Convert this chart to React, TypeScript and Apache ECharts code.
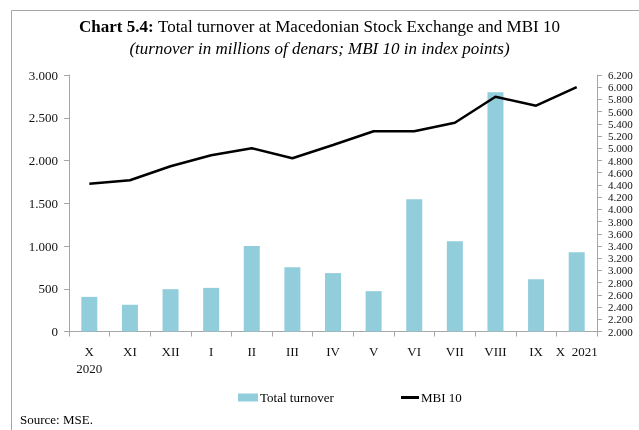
import React, { useEffect, useRef } from "react";
import * as echarts from "echarts";

const categories = ["X\n2020", "XI", "XII", "I", "II", "III", "IV", "V", "VI", "VII", "VIII", "IX", "X  2021"];
const turnover = [405, 312, 495, 510, 1000, 752, 683, 472, 1548, 1057, 2797, 612, 928];
const mbi10 = [4420, 4476, 4705, 4885, 5000, 4836, 5054, 5278, 5278, 5419, 5845, 5697, 6000];

const FONT = "Liberation Serif";
const fmt = (v: number) => String(v).replace(/\B(?=(\d{3})+(?!\d))/g, ".");

export default function App() {
  const ref = useRef<HTMLDivElement>(null);
  useEffect(() => {
    if (!ref.current) return;
    const chart = echarts.init(ref.current, undefined, { renderer: "svg" });
    chart.setOption({
      animation: false,
      textStyle: { fontFamily: FONT },
      title: {
        left: "center",
        top: 13,
        text: "{b|Chart 5.4:} {n|Total turnover at Macedonian Stock Exchange and MBI 10}",
        subtext: "(turnover in millions of denars; MBI 10 in index points)",
        itemGap: 5,
        textStyle: {
          fontWeight: "normal",
          fontFamily: FONT,
          fontSize: 17,
          color: "#000",
          rich: {
            b: { fontFamily: FONT, fontWeight: "bold", fontSize: 17, color: "#000" },
            n: { fontFamily: FONT, fontWeight: "normal", fontSize: 17, color: "#000" },
          },
        },
        subtextStyle: { fontFamily: FONT, fontStyle: "italic", fontSize: 17, color: "#000" },
      },
      grid: { left: 69, right: 42, top: 75, bottom: 98.5 },
      legend: [
        {
          data: ["Total turnover"],
          left: 233,
          top: 386,
          icon: "rect",
          itemWidth: 20,
          itemHeight: 8,
          textStyle: { fontFamily: FONT, fontSize: 13, color: "#000", padding: [0, 0, 0, -3] },
        },
        {
          data: ["MBI 10"],
          left: 396,
          top: 386,
          icon: "rect",
          itemWidth: 18,
          itemHeight: 3,
          textStyle: { fontFamily: FONT, fontSize: 13, color: "#000", padding: [0, 0, 0, -3] },
        },
      ],
      xAxis: {
        type: "category",
        data: categories,
        boundaryGap: true,
        axisLine: { lineStyle: { color: "#a6a6a6", width: 1 } },
        axisTick: { show: true, length: 5, inside: false, lineStyle: { color: "#a6a6a6" } },
        axisLabel: { interval: 0, margin: 11, fontSize: 13, lineHeight: 17, color: "#111", fontFamily: FONT },
      },
      yAxis: [
        {
          type: "value",
          min: 0,
          max: 3000,
          interval: 500,
          position: "left",
          splitLine: { show: false },
          axisLine: { show: true, lineStyle: { color: "#a6a6a6" } },
          axisTick: { show: true, length: 5, lineStyle: { color: "#a6a6a6" } },
          axisLabel: { formatter: fmt, fontSize: 13, margin: 11, color: "#111", fontFamily: FONT },
        },
        {
          type: "value",
          min: 2000,
          max: 6200,
          interval: 200,
          position: "right",
          splitLine: { show: false },
          axisLine: { show: true, lineStyle: { color: "#a6a6a6" } },
          axisTick: { show: true, length: 5, lineStyle: { color: "#a6a6a6" } },
          axisLabel: { formatter: fmt, fontSize: 11, lineHeight: 11, margin: 11, color: "#111", fontFamily: FONT },
        },
      ],
      series: [
        {
          name: "Total turnover",
          type: "bar",
          data: turnover,
          yAxisIndex: 0,
          barWidth: 16,
          itemStyle: { color: "#92cddc" },
        },
        {
          name: "MBI 10",
          type: "line",
          data: mbi10,
          yAxisIndex: 1,
          symbol: "none",
          lineStyle: { color: "#000", width: 2.5 },
          itemStyle: { color: "#000" },
        },
      ],
      graphic: [
        {
          type: "rect",
          shape: { x: 11.5, y: 10.5, width: 700, height: 500 },
          style: { fill: "none", stroke: "#a6a6a6", lineWidth: 1 },
          silent: true,
        },
        {
          type: "text",
          left: 20,
          top: 413,
          style: { text: "Source: MSE.", fontFamily: FONT, fontSize: 13, fill: "#000" },
        },
      ],
    });
    return () => chart.dispose();
  }, []);
  return <div ref={ref} style={{ position: "fixed", left: 0, top: 0, width: 639, height: 430 }} />;
}
